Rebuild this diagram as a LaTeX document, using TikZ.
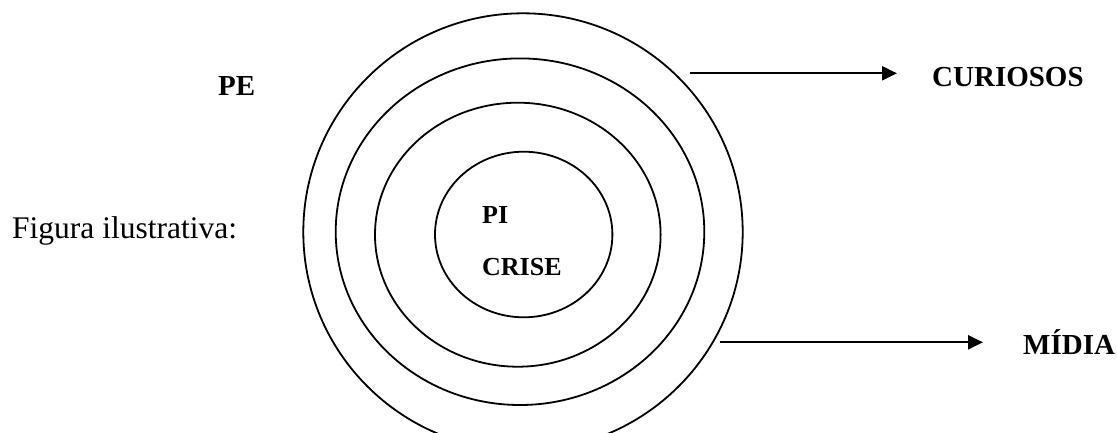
\documentclass[tikz,border=0pt]{standalone}
\usepackage{fontspec}
\setmainfont{Liberation Serif}
\usetikzlibrary{arrows.meta}
\begin{document}
\begin{tikzpicture}[x=1pt,y=-1pt,
  ring/.style={draw=black,line width=1.8pt},
  arr/.style={line width=2.2pt,-{Triangle[length=15pt,width=14pt]}},
  lbl/.style={inner sep=0pt,anchor=base west,font=\fontsize{29}{31}\selectfont\bfseries},
  inlbl/.style={inner sep=0pt,anchor=base west,font=\fontsize{26}{28}\selectfont\bfseries},
  plain/.style={inner sep=0pt,anchor=base west,font=\fontsize{31.5}{33}\selectfont}]
\useasboundingbox (0,0) rectangle (1117,432);
\clip (0,0) rectangle (1117,432);
\fill[white] (0,0) rectangle (1117,432);
% rings
\coordinate (c1) at (523,232);
\coordinate (c2) at (520,231.7);
\coordinate (c3) at (517.8,234.7);
\coordinate (c4) at (523.7,234.5);
\draw[ring] (c1) ellipse [x radius=219.7, y radius=218.7];
\draw[ring] (c2) ellipse [x radius=184.3, y radius=173.3];
\draw[ring] (c3) ellipse [x radius=142.8, y radius=132];
\draw[ring] (c4) ellipse [x radius=88.7, y radius=82.8];
% labels
\node[lbl] (pe) at (218,95) {PE};
\node[plain] (fig) at (12,238) {Figura ilustrativa:};
\node[inlbl] (pi) at (482,223) {PI};
\node[inlbl] (crise) at (482,275) {CRISE};
\node[lbl] (cur) at (932,86) {CURIOSOS};
\node[lbl] (mid) at (1023,354) {MÍDIA};
% arrows
\coordinate (a1) at (690,73.3);
\coordinate (a1e) at (897,73.3);
\coordinate (a2) at (720,342.3);
\coordinate (a2e) at (983,342.3);
\draw[arr] (a1) -- (a1e);
\draw[arr] (a2) -- (a2e);
\end{tikzpicture}
\end{document}
